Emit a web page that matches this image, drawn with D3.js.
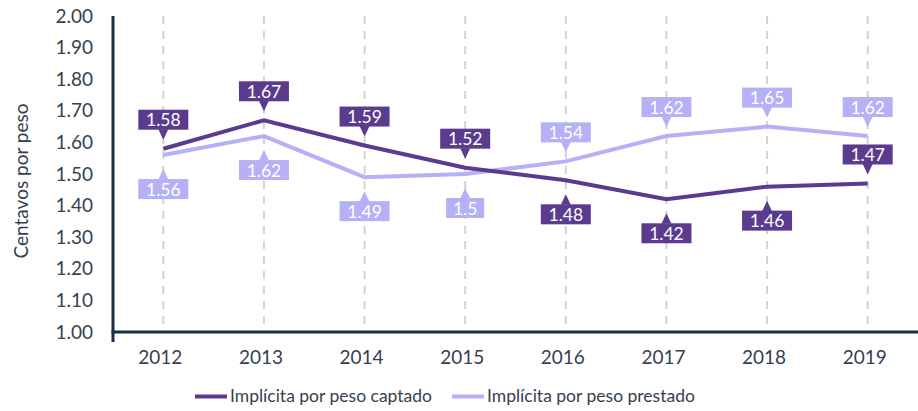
<!DOCTYPE html>
<html>
<head>
<meta charset="utf-8">
<script src="https://cdn.jsdelivr.net/npm/d3@7"></script>
<style>
  html, body { margin: 0; padding: 0; background: #fff; }
  svg { display: block; font-family: Lato, "Noto Sans", sans-serif; }
</style>
</head>
<body>
<svg id="chart" width="918" height="411"></svg>
<script>
// Tasa implícita (centavos por peso), 2012-2019
const years = ["2012", "2013", "2014", "2015", "2016", "2017", "2018", "2019"];
const captado = [1.58, 1.67, 1.59, 1.52, 1.48, 1.42, 1.46, 1.47];
const prestado = [1.56, 1.62, 1.49, 1.50, 1.54, 1.62, 1.65, 1.62];
// label side for each point: "up" = above the line, "down" = below
const captadoSide = ["up", "up", "up", "up", "down", "down", "down", "up"];
const prestadoSide = ["down", "down", "down", "down", "up", "up", "up", "up"];
const yTicks = [1.00, 1.10, 1.20, 1.30, 1.40, 1.50, 1.60, 1.70, 1.80, 1.90, 2.00];
const seriesNames = ["Implícita por peso captado", "Implícita por peso prestado"];

const darkPurple = "#5b3b8d";
const lightPurple = "#b5b1f6";
const axisColor = "#1a2d4b";
const textColor = "#353f4f";
const fontStack = "Lato, 'Noto Sans', sans-serif";

const svg = d3.select("#chart");
const plotLeft = 113, plotRight = 918, plotTop = 16, plotBottom = 332;

const x = d3.scalePoint().domain(years).range([plotLeft, plotRight]).padding(0.5);
const y = d3.scaleLinear().domain([1.0, 2.0]).range([plotBottom, plotTop]);

// vertical dashed gridlines
svg.append("g").selectAll("line").data(years).join("line")
  .attr("x1", d => x(d)).attr("x2", d => x(d))
  .attr("y1", plotTop).attr("y2", plotBottom)
  .attr("stroke", "#d3d3d3").attr("stroke-width", 2)
  .attr("stroke-dasharray", "8,7");

// y axis labels
const yAxis = d3.axisLeft(y).tickValues(yTicks).tickFormat(d3.format(".2f")).tickSize(0).tickPadding(0);
const yg = svg.append("g").attr("transform", `translate(${plotLeft - 20},0)`).call(yAxis);
yg.select(".domain").remove();
yg.selectAll("text").attr("fill", textColor).style("font-size", "19px").style("font-family", fontStack);

// x axis labels
const xAxis = d3.axisBottom(x).tickSize(0).tickPadding(0);
const xg = svg.append("g").attr("transform", `translate(-3.5,${plotBottom + 18})`).call(xAxis);
xg.select(".domain").remove();
xg.selectAll("text").attr("fill", textColor).style("font-size", "19px").style("font-family", fontStack);

// axis lines
svg.append("line").attr("x1", plotLeft).attr("x2", plotLeft).attr("y1", plotTop).attr("y2", plotBottom + 10)
  .attr("stroke", axisColor).attr("stroke-width", 3);
svg.append("line").attr("x1", plotLeft - 1.5).attr("x2", plotRight).attr("y1", plotBottom).attr("y2", plotBottom)
  .attr("stroke", axisColor).attr("stroke-width", 3);

// y axis title
svg.append("text")
  .attr("transform", `translate(28,181) rotate(-90)`)
  .attr("text-anchor", "middle")
  .attr("fill", textColor).style("font-size", "19px")
  .text("Centavos por peso");

// series lines
const line = d3.line().x((d, i) => x(years[i])).y(d => y(d));
svg.append("path").datum(prestado).attr("d", line)
  .attr("fill", "none").attr("stroke", lightPurple).attr("stroke-width", 4);
svg.append("path").datum(captado).attr("d", line)
  .attr("fill", "none").attr("stroke", darkPurple).attr("stroke-width", 4);

// data callouts with pointer
function callouts(values, sides, color) {
  const g = svg.append("g");
  values.forEach((v, i) => {
    const cx = x(years[i]);
    const cy = y(v);
    const txt = String(v);
    const w = txt.length <= 3 ? 38 : 50;
    const h = 20;
    const up = sides[i] === "up";
    const boxY = up ? cy - 19 - h : cy + 24;
    const tipY = up ? cy - 9 : cy + 14;
    const baseY = up ? cy - 19.5 : cy + 24.5;
    const cg = g.append("g");
    cg.append("rect").attr("x", cx - w / 2).attr("y", boxY).attr("width", w).attr("height", h).attr("fill", color);
    cg.append("path")
      .attr("d", `M${cx - 5},${baseY} L${cx + 5},${baseY} L${cx},${tipY} Z`)
      .attr("fill", color);
    cg.append("text").attr("x", cx).attr("y", boxY + h / 2 + 6.5)
      .attr("text-anchor", "middle").attr("fill", "#fff").style("font-size", "17.5px")
      .text(txt);
  });
}
callouts(prestado, prestadoSide, lightPurple);
callouts(captado, captadoSide, darkPurple);

// legend
const legend = svg.append("g");
const legendItems = [
  { name: seriesNames[0], color: darkPurple, x: 195 },
  { name: seriesNames[1], color: lightPurple, x: 452 }
];
legendItems.forEach(it => {
  legend.append("line").attr("x1", it.x).attr("x2", it.x + 32).attr("y1", 396.5).attr("y2", 396.5)
    .attr("stroke", it.color).attr("stroke-width", 4);
  legend.append("text").attr("x", it.x + 35).attr("y", 402)
    .attr("fill", textColor).style("font-size", "17.5px").text(it.name);
});
</script>
</body>
</html>
